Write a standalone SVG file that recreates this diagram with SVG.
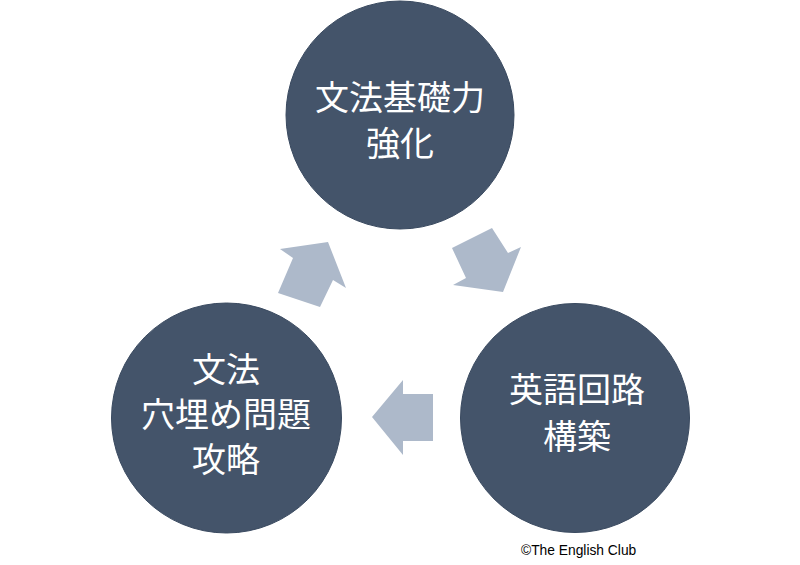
<svg xmlns="http://www.w3.org/2000/svg" width="800" height="565" viewBox="0 0 800 565">
<style>
.node circle{fill:#44546A;stroke:#3A4A60;stroke-width:1}
.lbl{fill:#FFFFFF;font-family:"Noto Sans CJK JP","Noto Sans CJK SC",sans-serif;font-size:34px;text-anchor:middle}
.arr{fill:#ADB9CA}
.copy{fill:#000;font-family:"Liberation Sans",Arial,sans-serif;font-size:13.8px}
</style>
<rect width="800" height="565" fill="#FFFFFF"/>
<g id="node-top" class="node">
<circle cx="400" cy="115" r="114"/>
<text class="lbl" x="400" y="110">文法基礎力</text>
<text class="lbl" x="400" y="156">強化</text>
</g>
<g id="node-right" class="node">
<circle cx="575" cy="418" r="114.5"/>
<text class="lbl" x="577" y="402">英語回路</text>
<text class="lbl" x="577" y="449">構築</text>
</g>
<g id="node-left" class="node">
<circle cx="226.5" cy="418" r="115"/>
<text class="lbl" x="226" y="382">文法</text>
<text class="lbl" x="226" y="427">穴埋め問題</text>
<text class="lbl" x="226" y="472">攻略</text>
</g>
<g id="connectors">
<polygon class="arr" points="328,242 346,288 333,280 320,307 278,293 293,258 280,249"/>
<polygon class="arr" points="452,248 492,228 508,253 521,247 503,292 453,285 466,278"/>
<polygon class="arr" points="372,417 403,380 403,394 433,394 433,441 403,441 403,455"/>
</g>
<text class="copy" x="521" y="555">©The English Club</text>
</svg>
